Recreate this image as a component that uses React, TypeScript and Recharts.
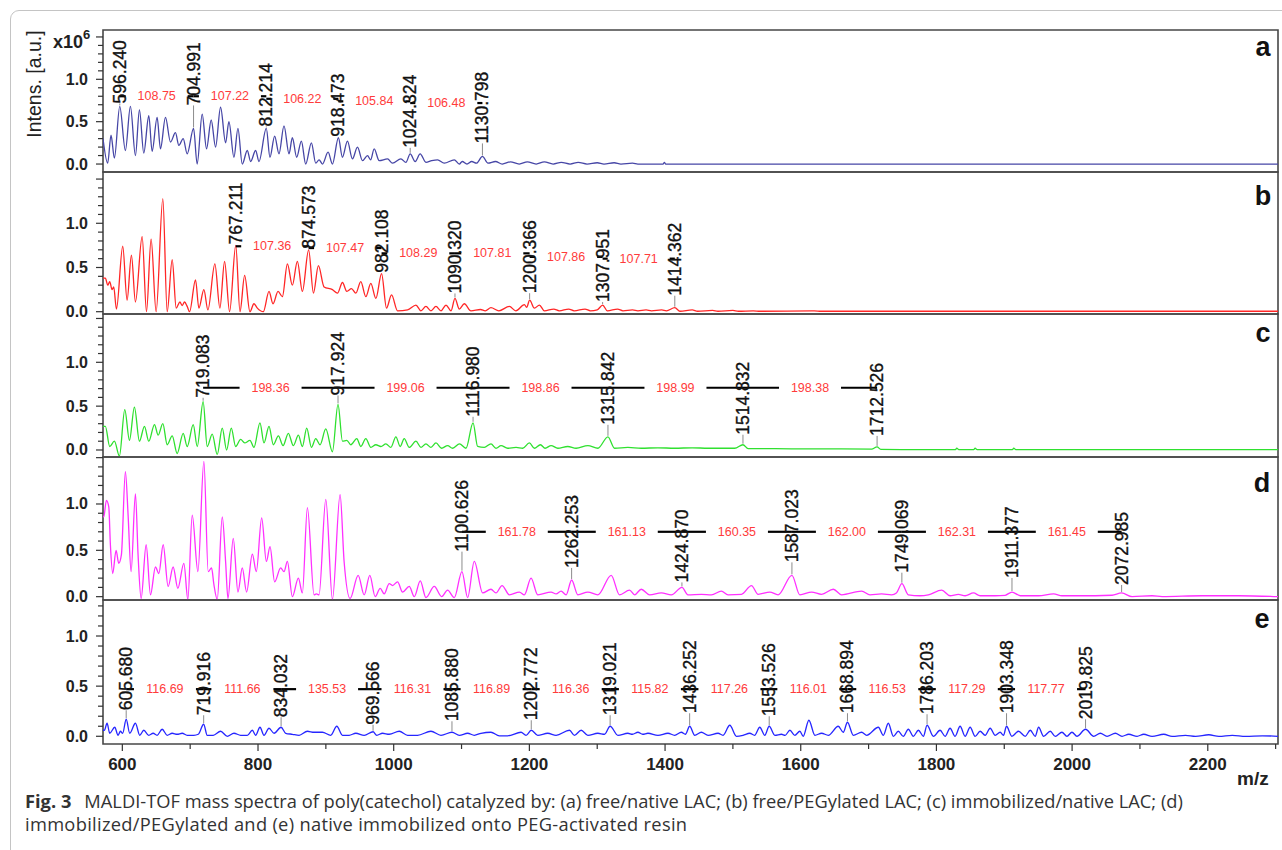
import React from "react";
import { ComposedChart, Line, Scatter, XAxis, YAxis, ReferenceLine, ReferenceArea } from "recharts";

type Pt = [number, number];

// ---------------- DATA ----------------
const specA: Pt[] = [[571.5,0.30],[578.4,0.01],[583.3,0.34],[588.3,0.07],[596.2,0.68],[604.5,0.16],[611.9,0.68],[619.3,0.10],[625.2,0.64],[631.6,0.13],[639,0.57],[643.9,0.15],[651.3,0.55],[656.2,0.18],[663.6,0.55],[671,0.26],[678.3,0.37],[683.3,0.22],[689.7,0.30],[695.6,0.12],[705,0.42],[710.3,0.0],[717.7,0.59],[724.1,0.18],[731,0.52],[737.4,0.20],[744.8,0.67],[752.2,0.25],[757.1,0.50],[764.5,0.08],[770.4,0.42],[776.8,0.0],[784.2,0.16],[789.1,0.03],[796.5,0.16],[801.4,0.03],[812.2,0.42],[817.6,0.08],[824.5,0.33],[830.9,0.12],[838.3,0.45],[845.7,0.12],[850.6,0.31],[857,0.08],[863.9,0.27],[870.3,0.0],[878.7,0.25],[885.1,0.01],[890,0.05],[895,0.0],[903.3,0.14],[909.7,0.0],[918.5,0.31],[924.4,0.08],[931.8,0.27],[939.2,0.06],[946.6,0.20],[954,0.04],[961.4,0.10],[966,0.05],[971.2,0.18],[978.6,0.04],[990.9,0.06],[998.3,0.01],[1010.6,0.06],[1018,0.02],[1024.3,0.12],[1031.7,0.03],[1039,0.12],[1047.5,0.02],[1056,0.04],[1064.7,0.05],[1074.5,0.01],[1089.3,0.05],[1096.7,0.0],[1101,0.03],[1108,0.0],[1115,0.03],[1122,0.01],[1130.8,0.09],[1139,0.01],[1150,0.03],[1160,0.0],[1172,0.025],[1185,0.0],[1197,0.025],[1210,0.0],[1222,0.025],[1235,0.0],[1247,0.02],[1260,0.0],[1272,0.02],[1285,0.0],[1300,0.015],[1310,0.0],[1325,0.015],[1335,0.0],[1352,0.01],[1360,0.0],[1397,0.0],[1399,0.02],[1401,0.0],[2303.5,0.0]];

const specB: Pt[] = [[571.5,0.38],[575,0.38],[578.5,0.30],[581.4,0.34],[584.9,0.25],[587.3,0.28],[591.3,0.03],[600.6,0.74],[607,0.13],[613.4,0.64],[619.3,0.11],[629.2,0.85],[635.6,0.0],[642.4,0.82],[649.8,0.0],[659.7,1.28],[666.1,0.0],[673.5,0.59],[679.4,0.04],[684.8,0.11],[688.2,0.07],[691.7,0.11],[695.6,0.06],[699.1,0.0],[707.9,0.36],[712.8,0.04],[720.2,0.25],[726.1,0.02],[736.4,0.54],[743.8,0.04],[750.7,0.57],[758.1,0.0],[767.2,0.75],[773.4,0.0],[780.3,0.41],[788.1,0.0],[794,0.09],[799,0.04],[807.8,0.0],[816.2,0.23],[822.1,0.09],[829.5,0.23],[835.9,0.17],[843.3,0.54],[850.6,0.30],[858,0.57],[865.4,0.23],[874.6,0.70],[881.7,0.21],[889,0.52],[897.4,0.28],[909.7,0.25],[917.1,0.21],[924.5,0.33],[930.9,0.23],[937.8,0.26],[944.2,0.21],[951.5,0.34],[958.9,0.17],[966.3,0.32],[973.7,0.15],[982.1,0.43],[989.4,0.04],[996.8,0.19],[1005.7,0.01],[1020.5,0.02],[1032.8,0.075],[1040.1,0.01],[1047.5,0.06],[1054.9,0.01],[1062.3,0.06],[1069.7,0.01],[1077.1,0.075],[1084.5,0.01],[1090.3,0.15],[1096.7,0.03],[1104.1,0.09],[1113.9,0.01],[1128,0.025],[1135,0.01],[1143.4,0.045],[1155,0.01],[1170.5,0.06],[1180,0.01],[1192.7,0.08],[1196,0.05],[1200.4,0.13],[1207.4,0.04],[1214.8,0.075],[1222,0.01],[1236,0.03],[1244,0.01],[1258,0.03],[1266,0.01],[1282,0.03],[1290,0.01],[1300,0.02],[1308,0.075],[1315,0.01],[1330,0.03],[1338,0.01],[1352,0.02],[1360,0.01],[1372,0.02],[1380,0.01],[1395,0.02],[1402,0.01],[1414.4,0.045],[1422,0.005],[1440,0.02],[1448,0.005],[1470,0.015],[1478,0.005],[1500,0.015],[1508,0.005],[1530,0.01],[1540,0.005],[1620,0.01],[1630,0.005],[1700,0.005],[2303.5,0.005]];

const specC: Pt[] = [[571.5,0.27],[575,0.27],[581.4,0.04],[588.3,0.10],[595.7,-0.07],[603.6,0.46],[610.5,0.11],[617.8,0.49],[625.2,0.10],[632.6,0.27],[639,0.10],[647.4,0.29],[652.8,0.17],[659.7,0.30],[666.1,0.06],[673.5,0.16],[680.8,-0.04],[689.7,0.19],[695.6,0.04],[704.5,0.29],[710.4,0.04],[719.1,0.55],[725.1,0.04],[732.5,0.18],[739.9,-0.05],[747.3,0.25],[753.7,0.0],[760.6,0.25],[767,0.04],[774.4,0.12],[780.3,0.08],[788.1,0.11],[794,0.03],[802.9,0.31],[808.8,0.08],[816.2,0.27],[822.6,0.06],[830,0.16],[836.9,0.05],[844.7,0.19],[852.1,0.05],[859.5,0.17],[865.4,0.04],[871.8,0.25],[878.7,0.03],[885.1,0.13],[891.5,0.06],[899.9,0.24],[909.7,-0.02],[917.9,0.52],[924.5,0.10],[930.9,0.11],[936.8,0.06],[945.6,0.13],[951.5,0.04],[958.9,0.13],[966.3,0.03],[973.7,0.06],[981.1,0.04],[988.5,0.07],[995.8,0.03],[1003.2,0.15],[1009.6,0.04],[1015.5,0.13],[1022.9,0.03],[1032.8,0.10],[1040.1,0.03],[1047.5,0.07],[1054.9,0.03],[1062.3,0.08],[1070.6,0.02],[1079.5,0.05],[1086.9,0.02],[1097,0.07],[1106.5,0.02],[1117,0.31],[1123.7,0.04],[1133.6,0.03],[1143.4,0.07],[1150.8,0.02],[1158.2,0.05],[1168,0.02],[1180.3,0.03],[1190.2,0.02],[1200,0.08],[1207.4,0.02],[1216.3,0.06],[1223.2,0.02],[1232,0.05],[1241.9,0.02],[1256.6,0.04],[1268.9,0.02],[1286.2,0.05],[1301,0.02],[1315.8,0.15],[1325.5,0.02],[1345.2,0.03],[1364.9,0.02],[1389.5,0.025],[1414.1,0.02],[1440,0.025],[1463.4,0.02],[1502.7,0.02],[1514.8,0.06],[1522.4,0.015],[1561.8,0.015],[1611,0.012],[1660,0.012],[1704.5,0.01],[1712.5,0.035],[1718,0.008],[1760,0.005],[1828,0.005],[1830,0.02],[1833,0.005],[1855,0.005],[1857,0.02],[1860,0.005],[1912,0.005],[1914,0.02],[1917,0.005],[2303.5,0.005]];

const specD: Pt[] = [[571.5,0.86],[572.6,0.86],[576.5,1.04],[580,0.97],[582.4,0.56],[585.8,0.25],[590.8,0.50],[594.7,0.36],[598.6,0.45],[604.5,1.35],[608.5,0.88],[612.9,0.27],[619.3,1.11],[623.2,0.45],[627.7,-0.02],[635.1,0.56],[641.5,0.02],[648.8,0.32],[653.8,0.25],[660.2,0.56],[667.5,0.11],[674.9,0.32],[681.8,0.09],[690.7,0.36],[696.6,-0.03],[703,0.88],[711.4,0.27],[720.2,1.46],[726.6,0.27],[731.5,0.31],[735,0.13],[739.9,-0.03],[747.3,0.86],[752.2,0.38],[755.7,-0.02],[763.5,0.63],[770.4,0.05],[776.8,0.31],[783.2,0.05],[791.6,0.46],[797.5,0.27],[805.4,0.85],[812.3,0.38],[817.7,0.54],[824.5,0.16],[833.4,0.31],[838.3,0.27],[843.3,0.38],[850.6,0.0],[859.5,0.20],[865.4,0.04],[872.8,0.96],[882.6,0.02],[886,0.03],[890,0.02],[899.9,1.05],[909.7,-0.03],[921,1.10],[926.9,0.38],[935.8,-0.02],[947.6,0.23],[956.5,0.02],[964.8,0.23],[972.7,0.0],[980.1,0.09],[986,0.03],[993.4,0.14],[998.3,0.12],[1005.7,0.16],[1013.1,0.05],[1022.9,0.11],[1030.3,0.0],[1039.2,0.17],[1047.5,-0.01],[1059.8,0.11],[1070.7,0.0],[1079.4,0.07],[1089.3,-0.01],[1100.6,0.27],[1109,-0.01],[1118.8,0.38],[1131.1,0.04],[1143.4,0.08],[1150.8,0.04],[1159.7,0.12],[1170.5,0.02],[1185.3,0.05],[1192.6,0.02],[1202.5,0.20],[1212.3,0.02],[1232,0.05],[1239.4,0.03],[1246.8,0.06],[1254.2,0.02],[1262.3,0.18],[1271.4,0.02],[1286.2,0.05],[1301,0.02],[1320.6,0.23],[1332.9,0.02],[1347.7,0.07],[1355.1,0.02],[1364.9,0.08],[1377.2,0.02],[1394.5,0.04],[1409.2,0.02],[1424.9,0.10],[1433.8,0.02],[1453.5,0.025],[1468.3,0.02],[1483,0.06],[1492.9,0.02],[1512.6,0.025],[1527.4,0.12],[1537.2,0.025],[1554.4,0.05],[1566.7,0.02],[1587,0.23],[1598.7,0.02],[1616,0.05],[1630.7,0.025],[1648,0.08],[1660.2,0.02],[1689.8,0.06],[1702.1,0.02],[1719.2,0.03],[1734,0.02],[1741,0.04],[1749.1,0.14],[1758.6,0.02],[1775.8,0.01],[1788.1,0.02],[1807.8,0.07],[1820.1,0.01],[1832.4,0.025],[1842.3,0.01],[1854.6,0.04],[1864.4,0.01],[1886.6,0.01],[1901.3,0.015],[1911.4,0.05],[1923.5,0.01],[1950.6,0.01],[1972.7,0.03],[1985,0.01],[2009.6,0.01],[2034.2,0.01],[2058.9,0.015],[2073,0.04],[2088.4,0.0],[2117.9,0.01],[2132.7,0.0],[2191.7,0.01],[2216.4,0.01],[2245.9,0.01],[2303.5,0.0]];

const specE: Pt[] = [[571.5,0.06],[573.5,0.06],[577.5,0.13],[581.4,0.03],[588.8,0.09],[593.7,0.01],[597.2,0.05],[600.5,0.03],[605.7,0.17],[610.9,0.03],[619.3,0.13],[625.7,0.01],[631.6,0.06],[639,0.01],[645.4,0.03],[651.3,0.01],[658.7,0.07],[666.1,0.01],[673.5,0.03],[680.8,0.02],[688.2,0.03],[695.6,0.01],[705.4,0.01],[712,0.02],[719.9,0.12],[725.1,0.01],[734,0.01],[744.8,0.05],[754.7,0.0],[764.5,0.03],[774.4,0.01],[784.2,0.01],[791.6,0.06],[796.5,0.01],[802.9,0.09],[808.8,0.01],[816.2,0.08],[823.6,0.03],[834,0.09],[840.8,0.03],[850.6,0.02],[860.5,0.01],[872.8,0.05],[882.6,0.04],[894.9,0.04],[907.2,0.01],[916.1,0.10],[924.5,0.01],[934.3,0.01],[944.2,0.03],[956.5,0.01],[969.6,0.045],[975,0.01],[983.5,0.03],[993.4,0.02],[1008.2,0.05],[1020.5,0.01],[1035.2,0.01],[1054.9,0.05],[1069.7,0.01],[1085.9,0.04],[1096.7,0.01],[1109,0.03],[1118.8,0.01],[1128.7,0.03],[1143.4,0.04],[1155.7,0.005],[1168,0.005],[1187.7,0.04],[1195.1,0.01],[1202.8,0.06],[1212.3,0.01],[1227.1,0.03],[1239.4,0.01],[1259.1,0.06],[1266.5,0.01],[1276.3,0.06],[1286.2,0.01],[1300.9,0.03],[1310.8,0.02],[1319,0.10],[1330.5,0.01],[1345.2,0.03],[1352,0.02],[1360,0.04],[1367,0.02],[1374.8,0.03],[1389.5,0.01],[1404.3,0.03],[1414.1,0.01],[1424,0.04],[1430,0.02],[1436.3,0.10],[1443.7,0.01],[1453.5,0.04],[1463.4,0.01],[1478.1,0.03],[1485.5,0.01],[1495.4,0.11],[1505.2,0.0],[1515,0.01],[1524.9,0.03],[1532,0.01],[1539.6,0.09],[1547,0.01],[1553.5,0.10],[1561.8,0.01],[1571.6,0.02],[1577,0.01],[1584,0.06],[1591.3,0.01],[1598.7,0.05],[1603.6,0.0],[1612,0.16],[1620.9,0.01],[1630.7,0.03],[1640.6,0.01],[1655.3,0.10],[1662.7,0.04],[1668.9,0.14],[1677.5,0.01],[1689.8,0.04],[1697.2,0.01],[1714.4,0.09],[1721.7,0.01],[1729.1,0.13],[1736.5,0.0],[1743.8,0.05],[1751.2,0.0],[1758.6,0.07],[1766,0.0],[1773.4,0.06],[1780.8,0.0],[1786.2,0.11],[1795.5,0.0],[1805.4,0.06],[1812.8,0.0],[1820.1,0.08],[1827.5,0.0],[1834.9,0.10],[1842.3,0.0],[1849.7,0.09],[1857,0.0],[1864.4,0.05],[1871.8,0.01],[1879.2,0.08],[1886.6,0.01],[1894,0.04],[1898.9,0.01],[1903.3,0.10],[1911.2,0.0],[1921,0.05],[1930.9,0.0],[1938.3,0.06],[1945.6,0.0],[1950.6,0.09],[1958,0.0],[1967.8,0.05],[1975.2,0.0],[1985,0.04],[1992.4,0.0],[1999.8,0.04],[2007.2,0.0],[2019.8,0.07],[2031.8,0.0],[2041.6,0.03],[2051.5,0.0],[2063.8,0.03],[2073.6,0.0],[2083.5,0.02],[2095.8,0.0],[2105.6,0.02],[2117.9,0.0],[2135.1,0.02],[2147.4,0.0],[2167.1,0.01],[2181.9,0.0],[2201.6,0.015],[2216.4,0.0],[2236.1,0.01],[2255.8,0.0],[2280.4,0.005],[2303.5,0.0]];

// peak labels (m/z) and the intensity of the labelled peak
const labelsA = ["596.240", "704.991", "812.214", "918.473", "1024.324", "1130.798"];
const peakA = [0.68, 0.42, 0.42, 0.31, 0.12, 0.09];
const diffA = ["108.75", "107.22", "106.22", "105.84", "106.48"];
const diffLevelA = [0.80, 0.80, 0.77, 0.74, 0.72];

const labelsB = ["767.211", "874.573", "982.108", "1090.320", "1200.366", "1307.951", "1414.362"];
const peakB = [0.75, 0.70, 0.43, 0.15, 0.13, 0.075, 0.045];
const diffB = ["107.36", "107.47", "108.29", "107.81", "107.86", "107.71"];
const diffLevelB = [0.74, 0.72, 0.66, 0.66, 0.62, 0.60];

const labelsC = ["719.083", "917.924", "1116.980", "1315.842", "1514.832", "1712.526"];
const peakC = [0.55, 0.52, 0.31, 0.15, 0.06, 0.035];
const diffC = ["198.36", "199.06", "198.86", "198.99", "198.38"];
const diffLevelC = [0.71, 0.71, 0.71, 0.71, 0.71];

const labelsD = ["1100.626", "1262.253", "1424.870", "1587.023", "1749.069", "1911.377", "2072.985"];
const peakD = [0.27, 0.18, 0.10, 0.23, 0.14, 0.05, 0.04];
const diffD = ["161.78", "161.13", "160.35", "162.00", "162.31", "161.45"];
const diffLevelD = [0.70, 0.70, 0.70, 0.70, 0.70, 0.70];

const labelsE = ["605.680", "719.916", "834.032", "969.566", "1085.880", "1202.772", "1319.021", "1436.252", "1553.526", "1668.894", "1786.203", "1903.348", "2019.825"];
const peakE = [0.17, 0.12, 0.09, 0.045, 0.04, 0.06, 0.10, 0.10, 0.10, 0.14, 0.11, 0.10, 0.07];
const diffE = ["116.69", "111.66", "135.53", "116.31", "116.89", "116.36", "115.82", "117.26", "116.01", "116.53", "117.29", "117.77"];
const diffLevelE = [0.47, 0.47, 0.47, 0.47, 0.47, 0.47, 0.47, 0.47, 0.47, 0.47, 0.47, 0.47];

const xTicks = [600, 700, 800, 900, 1000, 1100, 1200, 1300, 1400, 1500, 1600, 1700, 1800, 1900, 2000, 2100, 2200, 2300];
const xTickLabels = [600, 800, 1000, 1200, 1400, 1600, 1800, 2000, 2200];
const yTicks15 = [0, 0.1, 0.2, 0.3, 0.4, 0.5, 0.6, 0.7, 0.8, 0.9, 1.0, 1.1, 1.2, 1.3, 1.4, 1.5];
const yTicks13 = [0, 0.1, 0.2, 0.3, 0.4, 0.5, 0.6, 0.7, 0.8, 0.9, 1.0, 1.1, 1.2, 1.3];
const yTickLabels = [0, 0.5, 1.0];

// ---------------- STYLE / LAYOUT ----------------
const FONT = "Arial, 'Liberation Sans', Helvetica, sans-serif";
const CAPTION_FONT = "'Open Sans', sans-serif";
const W = 1282;
const PLOT_LEFT = 103;
const PLOT_RIGHT = 1278;
const X_MIN = 571.5;
const X_MAX = 2303.5;
const PX_PER_DA = (PLOT_RIGHT - PLOT_LEFT) / (X_MAX - X_MIN);
const HALF_GAP = 31 / PX_PER_DA;
const X_AXIS_H = 46;

// leader length (px) between a peak top and its label
const leadA = [3, 23, 2, 1, 6, 13];
const leadB = [1, 1, 1, 5, 7, 3, 12];
const leadC = [4, 9, 6, 12, 10, 11];
const leadD = [20, 12, 5, 13, 11, 14, 8];
const leadE = [9, 9, 10, 7, 11, 10, 11, 13, 10, 9, 11, 13, 10];

const rows = (a: Pt[]) => a.map(([mz, v]) => ({ mz, v }));

function YTick(props: any) {
  const { y, payload } = props;
  const v = payload.value as number;
  const major = Math.abs(v * 2 - Math.round(v * 2)) < 1e-6;
  const labelled = yTickLabels.some((t) => Math.abs(t - v) < 1e-6);
  return (
    <g>
      <line x1={PLOT_LEFT - (major ? 7 : 5)} x2={PLOT_LEFT} y1={y} y2={y} stroke="#333" strokeWidth={1.2} />
      {labelled ? (
        <text x={PLOT_LEFT - 15} y={y} textAnchor="end" dominantBaseline="central" fontFamily={FONT} fontWeight="bold" fontSize={16} fill="#222">
          {v.toFixed(1)}
        </text>
      ) : null}
    </g>
  );
}

function makeXTick(axisY: number) {
  return (props: any) => {
    const { x, payload } = props;
    const v = payload.value as number;
    const major = xTickLabels.indexOf(v) >= 0;
    return (
      <g>
        <line x1={x} x2={x} y1={axisY} y2={axisY + (major ? 7 : 5)} stroke="#333" strokeWidth={1.2} />
        {major ? (
          <text x={x} y={axisY + 26} textAnchor="middle" fontFamily={FONT} fontWeight="bold" fontSize={17} fill="#222">
            {v}
          </text>
        ) : null}
      </g>
    );
  };
}

function PeakLabel(props: any) {
  const { cx, cy, payload } = props;
  if (cx == null || cy == null) return <g />;
  const top = cy - payload.lead;
  return (
    <g>
      <line x1={cx} x2={cx} y1={cy - 1} y2={top} stroke="#8c8c8c" strokeWidth={1} />
      <text
        transform={`translate(${cx},${top}) rotate(-90)`}
        textAnchor="start"
        dominantBaseline="central"
        fontFamily={FONT}
        fontSize={17.5}
        fill="#111"
        stroke="#111"
        strokeWidth={0.35}
      >
        {payload.label}
      </text>
    </g>
  );
}

function DiffLabel(props: any) {
  const { cx, cy, payload } = props;
  if (cx == null || cy == null) return <g />;
  return (
    <text x={cx} y={cy} textAnchor="middle" dominantBaseline="central" fontFamily={FONT} fontSize={12.5} fill="#ff3b3b">
      {payload.label}
    </text>
  );
}

interface PanelProps {
  top: number;
  height: number;
  yDomain: [number, number];
  yTicks: number[];
  color: string;
  spec: Pt[];
  labels: string[];
  peaks: number[];
  leads: number[];
  diffs: string[];
  levels: number[];
  showX?: boolean;
}

function Panel(p: PanelProps) {
  const data = rows(p.spec);
  const xs = p.labels.map((l) => parseFloat(l));
  const peakRows = p.labels.map((l, i) => ({ mz: xs[i], v: p.peaks[i], label: l, lead: p.leads[i] }));
  const diffRows = p.diffs.map((d, i) => ({ mz: (xs[i] + xs[i + 1]) / 2, v: p.levels[i], label: d }));
  const segs: { a: number; b: number; y: number }[] = [];
  p.diffs.forEach((_, i) => {
    const m = (xs[i] + xs[i + 1]) / 2;
    if (m - HALF_GAP > xs[i]) segs.push({ a: xs[i], b: m - HALF_GAP, y: p.levels[i] });
    if (xs[i + 1] > m + HALF_GAP) segs.push({ a: m + HALF_GAP, b: xs[i + 1], y: p.levels[i] });
  });
  const h = p.height + (p.showX ? X_AXIS_H : 0);
  return (
    <div style={{ position: "absolute", left: 0, top: p.top, width: W, height: h }}>
      <ComposedChart width={W} height={h} margin={{ top: 0, right: W - PLOT_RIGHT, bottom: 0, left: 0 }}>
        <XAxis
          type="number"
          dataKey="mz"
          domain={[X_MIN, X_MAX]}
          allowDataOverflow
          hide={!p.showX}
          ticks={xTicks}
          interval={0}
          tick={makeXTick(p.height)}
          tickLine={false}
          axisLine={false}
          height={p.showX ? X_AXIS_H : 0}
        />
        <YAxis
          type="number"
          dataKey="v"
          domain={p.yDomain}
          allowDataOverflow
          ticks={p.yTicks}
          interval={0}
          tick={YTick}
          tickLine={false}
          axisLine={false}
          width={PLOT_LEFT}
        />
        <ReferenceArea
          x1={X_MIN}
          x2={X_MAX}
          y1={p.yDomain[0]}
          y2={p.yDomain[1]}
          fill="none"
          fillOpacity={0}
          stroke="#474747"
          strokeWidth={1.6}
          ifOverflow="visible"
        />
        <Line data={data} dataKey="v" type="monotone" stroke={p.color} strokeWidth={1.3} dot={false} isAnimationActive={false} />
        {segs.map((s, i) => (
          <ReferenceLine
            key={"seg" + i}
            segment={[{ x: s.a, y: s.y }, { x: s.b, y: s.y }]}
            stroke="#000"
            strokeWidth={2.2}
            ifOverflow="visible"
          />
        ))}
        <Scatter data={peakRows} dataKey="v" shape={PeakLabel} isAnimationActive={false} />
        <Scatter data={diffRows} dataKey="v" shape={DiffLabel} isAnimationActive={false} />
      </ComposedChart>
    </div>
  );
}

export default function App() {
  return (
    <div style={{ position: "absolute", left: 0, top: 0, width: W, height: 850, overflow: "hidden", background: "#fff" }}>
      <style>{".recharts-wrapper, .recharts-surface { overflow: visible !important; }"}</style>
      <div
        style={{
          position: "absolute",
          left: 10,
          top: 10,
          width: 1300,
          height: 900,
          border: "1px solid #c4c4c4",
          borderRadius: 9,
        }}
      />
      <Panel top={30} height={142} yDomain={[-0.094, 1.582]} yTicks={yTicks15} color="#4646a6" spec={specA}
        labels={labelsA} peaks={peakA} leads={leadA} diffs={diffA} levels={diffLevelA} />
      <Panel top={172} height={142} yDomain={[-0.026, 1.58]} yTicks={yTicks15} color="#ff2626" spec={specB}
        labels={labelsB} peaks={peakB} leads={leadB} diffs={diffB} levels={diffLevelB} />
      <Panel top={314} height={143} yDomain={[-0.08, 1.551]} yTicks={yTicks15} color="#2fe02f" spec={specC}
        labels={labelsC} peaks={peakC} leads={leadC} diffs={diffC} levels={diffLevelC} />
      <Panel top={457} height={143} yDomain={[-0.036, 1.507]} yTicks={yTicks15} color="#ff30ff" spec={specD}
        labels={labelsD} peaks={peakD} leads={leadD} diffs={diffD} levels={diffLevelD} />
      <Panel top={600} height={144} yDomain={[-0.077, 1.359]} yTicks={yTicks13} color="#2626ff" spec={specE}
        labels={labelsE} peaks={peakE} leads={leadE} diffs={diffE} levels={diffLevelE} showX />
      <svg width={W} height={850} style={{ position: "absolute", left: 0, top: 0, pointerEvents: "none" }}>
        <text transform="translate(34,84) rotate(-90)" textAnchor="middle" dominantBaseline="central" fontFamily={FONT} fontSize={19.5} fill="#222">
          Intens. [a.u.]
        </text>
        <text x={53} y={48} fontFamily={FONT} fontWeight="bold" fontSize={18} fill="#222">
          x10<tspan dy={-9} fontSize={13}>6</tspan>
        </text>
        <text x={1263} y={56} textAnchor="middle" fontFamily={FONT} fontWeight="bold" fontSize={27} fill="#111">a</text>
        <text x={1263} y={205} textAnchor="middle" fontFamily={FONT} fontWeight="bold" fontSize={27} fill="#111">b</text>
        <text x={1263} y={342} textAnchor="middle" fontFamily={FONT} fontWeight="bold" fontSize={27} fill="#111">c</text>
        <text x={1262} y={492} textAnchor="middle" fontFamily={FONT} fontWeight="bold" fontSize={27} fill="#111">d</text>
        <text x={1262} y={628} textAnchor="middle" fontFamily={FONT} fontWeight="bold" fontSize={27} fill="#111">e</text>
        <text x={1237} y={785} fontFamily={FONT} fontWeight="bold" fontSize={19} fill="#222">m/z</text>
      </svg>
      <div style={{ position: "absolute", left: 25, top: 789, width: 1240, fontFamily: CAPTION_FONT, fontSize: 18.3, lineHeight: "23px", color: "#333", whiteSpace: "nowrap" }}>
        <div>
          <b>Fig. 3</b>
          <span style={{ marginLeft: 13 }}>MALDI-TOF mass spectra of poly(catechol) catalyzed by: (a) free/native LAC; (b) free/PEGylated LAC; (c) immobilized/native LAC; (d)</span>
        </div>
        <div style={{ letterSpacing: "0.3px" }}>immobilized/PEGylated and (e) native immobilized onto PEG-activated resin</div>
      </div>
    </div>
  );
}
